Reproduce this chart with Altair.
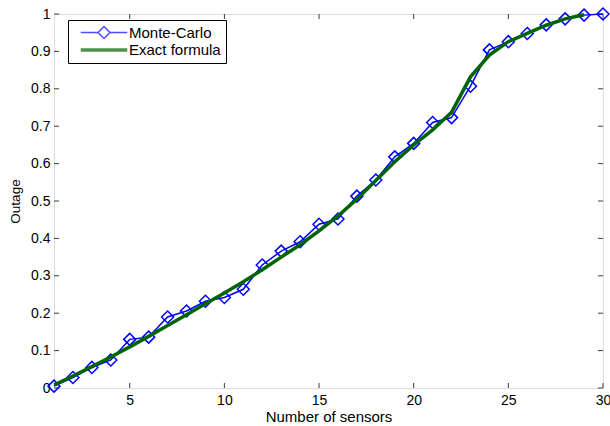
import altair as alt
import pandas as pd

# ---- data ----
sensors = list(range(1, 31))
monte_carlo = [0.005, 0.028, 0.055, 0.075, 0.130, 0.136, 0.190, 0.206, 0.232, 0.242,
               0.264, 0.329, 0.366, 0.391, 0.438, 0.452, 0.513, 0.556, 0.618, 0.654,
               0.710, 0.723, 0.807, 0.904, 0.926, 0.948, 0.971, 0.987, 0.997, 1.000]
exact_sensors = list(range(1, 30))
exact = [0.008, 0.032, 0.057, 0.083, 0.110, 0.138, 0.167, 0.196, 0.225, 0.254,
         0.284, 0.316, 0.350, 0.383, 0.420, 0.460, 0.505, 0.555, 0.605, 0.650,
         0.690, 0.737, 0.832, 0.890, 0.926, 0.948, 0.970, 0.987, 0.998]
x_ticks = [5, 10, 15, 20, 25, 30]
y_ticks = [0, 0.1, 0.2, 0.3, 0.4, 0.5, 0.6, 0.7, 0.8, 0.9, 1]
series_names = ["Monte-Carlo", "Exact formula"]
series_colors = ["#0000ff", "#006400"]
series_widths = [1.5, 3.5]

W, H = 549, 374
AXC = "#3c3c3c"
FONT = "Liberation Sans"

mc_df = pd.DataFrame({"x": sensors, "y": monte_carlo})
ex_df = pd.DataFrame({"x": exact_sensors, "y": exact})
xt_df = pd.DataFrame({"x": x_ticks})
yt_df = pd.DataFrame({"y": y_ticks})
lg_df = pd.DataFrame({"series": series_names})

xscale = alt.Scale(domain=[1, 30], nice=False, zero=False)
yscale = alt.Scale(domain=[0, 1], nice=False)
xaxis = alt.Axis(values=x_ticks, title="Number of sensors", tickSize=0, domain=False,
                 grid=False, labelPadding=5, titlePadding=2, labelFontSize=14,
                 titleFontSize=15, labelFont=FONT, titleFont=FONT, labelColor="black",
                 titleColor="black", titleFontWeight="normal", labelFlush=False)
yaxis = alt.Axis(values=y_ticks, title="Outage", tickSize=0, domain=False, grid=False,
                 format="~g", labelPadding=4, titlePadding=8, labelFontSize=14,
                 titleFontSize=13.5, labelFont=FONT, titleFont=FONT, labelColor="black",
                 titleColor="black", titleFontWeight="normal")


def X():
    return alt.X("x:Q", scale=xscale, axis=xaxis)


def Y():
    return alt.Y("y:Q", scale=yscale, axis=yaxis)


mc_line = alt.Chart(mc_df).mark_line(color=series_colors[0], strokeWidth=series_widths[0]).encode(x=X(), y=Y())
mc_pts = alt.Chart(mc_df).mark_point(shape="diamond", filled=False, size=144,
                                     strokeWidth=1.5, color=series_colors[0], opacity=1).encode(x=X(), y=Y())
ex_line = alt.Chart(ex_df).mark_line(color=series_colors[1], strokeWidth=series_widths[1]).encode(x=X(), y=Y())

# inward tick marks on all four sides
tb = alt.Chart(xt_df).mark_rule(color=AXC, strokeWidth=1).encode(x=X(), y=alt.value(H), y2=alt.value(H - 5))
tt = alt.Chart(xt_df).mark_rule(color=AXC, strokeWidth=1).encode(x=X(), y=alt.value(0), y2=alt.value(5))
tl = alt.Chart(yt_df).mark_rule(color=AXC, strokeWidth=1).encode(y=Y(), x=alt.value(0), x2=alt.value(5))
tr = alt.Chart(yt_df).mark_rule(color=AXC, strokeWidth=1).encode(y=Y(), x=alt.value(W), x2=alt.value(W - 5))

legend = alt.Legend(orient="none", legendX=14, legendY=6, title=None, strokeColor="black",
                    fillColor="white", padding=5, symbolSize=144, symbolOffset=23,
                    labelFontSize=15, labelFont=FONT, labelColor="black", rowPadding=0,
                    labelOffset=17)
mc_symbol = "M-3.88,0L-1,0M1,0L3.88,0M0,-1L1,0L0,1L-1,0Z"
ex_symbol = "M-3.88,0L3.88,0"
lg = alt.Chart(lg_df).mark_point(filled=False, size=144).transform_filter("false").encode(
    color=alt.Color("series:N", scale=alt.Scale(domain=series_names, range=series_colors), legend=legend),
    shape=alt.Shape("series:N", scale=alt.Scale(domain=series_names, range=[mc_symbol, ex_symbol]), legend=legend),
    strokeWidth=alt.StrokeWidth("series:N", scale=alt.Scale(domain=series_names, range=series_widths), legend=legend),
)

chart = alt.layer(tb, tt, tl, tr, mc_line, mc_pts, ex_line, lg).properties(
    width=W, height=H, autosize="none",
    padding={"left": 54, "top": 14, "right": 7, "bottom": 38},
).configure_view(stroke=AXC, strokeWidth=1).configure(background="white")

chart.save("out.html", embed_options={"renderer": "svg", "actions": False})
